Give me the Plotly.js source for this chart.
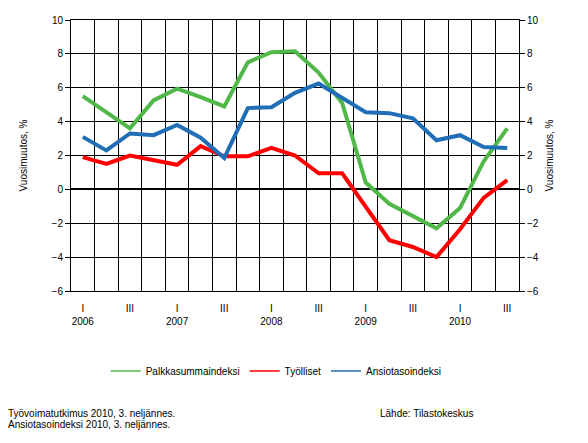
<!DOCTYPE html>
<html>
<head>
<meta charset="utf-8">
<script src="https://cdn.plot.ly/plotly-3.0.1.min.js"></script>
<style>
  body { margin: 0; background: #fff; }
  #chart { width: 588px; height: 443px; }
</style>
</head>
<body>
<div id="chart"></div>
<script>
// quarters 2006 I .. 2010 III
const quarters = [
  "2006 I", "2006 II", "2006 III", "2006 IV",
  "2007 I", "2007 II", "2007 III", "2007 IV",
  "2008 I", "2008 II", "2008 III", "2008 IV",
  "2009 I", "2009 II", "2009 III", "2009 IV",
  "2010 I", "2010 II", "2010 III"
];

const palkkasumma = [5.5, 4.55, 3.6, 5.25, 5.95, 5.45, 4.9, 7.5, 8.1, 8.15,
                     6.9, 5.1, 0.4, -0.85, -1.55, -2.3, -1.1, 1.65, 3.6];
const tyolliset = [1.9, 1.5, 2.0, 1.7, 1.45, 2.55, 1.95, 1.95, 2.45, 2.0,
                   0.95, 0.95, -1.0, -3.0, -3.4, -4.0, -2.35, -0.5, 0.55];
const ansiotaso = [3.1, 2.3, 3.3, 3.2, 3.8, 3.05, 1.85, 4.8, 4.85, 5.7,
                   6.25, 5.4, 4.55, 4.5, 4.2, 2.9, 3.2, 2.5, 2.45];

const seriesNames = ["Palkkasummaindeksi", "Työlliset", "Ansiotasoindeksi"];

const tickQuarters = ["2006 I", "2006 III", "2007 I", "2007 III", "2008 I", "2008 III",
                      "2009 I", "2009 III", "2010 I", "2010 III"];
const tickLabels = ["I<br>2006", "III", "I<br>2007", "III", "I<br>2008", "III",
                    "I<br>2009", "III", "I<br>2010", "III"];

const yTitle = "Vuosimuutos, %";

const green = "rgb(80,184,72)";
const red = "rgb(255,0,0)";
const blue = "rgb(31,110,182)";

const baseFont = {family: "Liberation Sans, Arial, sans-serif", size: 10, color: "#000"};

const makeTrace = (y, color) => {
    return {
        x: quarters,
        y: y,
        type: 'scatter',
        mode: 'lines',
        showlegend: false,
        line: {color: color, width: 4}
    }
}

// legend shows thin lines, so it gets its own empty traces
const legendTrace = (name, color) => {
    return {
        x: [null],
        y: [null],
        name: name,
        type: 'scatter',
        mode: 'lines',
        line: {color: color, width: 1.5}
    }
}

const data = [
    makeTrace(palkkasumma, green),
    makeTrace(tyolliset, red),
    makeTrace(ansiotaso, blue),
    legendTrace(seriesNames[0], green),
    legendTrace(seriesNames[1], red),
    legendTrace(seriesNames[2], blue),
    // invisible copy so the second axes get drawn
    {x: quarters, y: ansiotaso, xaxis: 'x2', yaxis: 'y2', type: 'scatter', mode: 'lines',
     line: {color: 'rgba(0,0,0,0)', width: 0}, showlegend: false, hoverinfo: 'skip'}
];

const yAxisCommon = {
    range: [-6, 10],
    dtick: 2,
    tick0: -6,
    ticks: 'outside',
    ticklen: 5,
    tickcolor: '#000',
    tickfont: baseFont,
    showline: true,
    linecolor: '#000',
    linewidth: 1,
    zeroline: false,
    fixedrange: true
}

const layout = {
    width: 588,
    height: 443,
    margin: {l: 71, r: 69, t: 20, b: 152},
    paper_bgcolor: '#fff',
    plot_bgcolor: '#fff',
    font: baseFont,
    showlegend: true,
    legend: {
        orientation: 'h',
        x: 0.458,
        xanchor: 'center',
        y: -0.295,
        yanchor: 'middle',
        font: baseFont,
        itemwidth: 30,
        traceorder: 'normal'
    },
    xaxis: {
        type: 'category',
        range: [-0.5, 18.5],
        tickson: 'boundaries',
        showgrid: true,
        gridcolor: '#000',
        gridwidth: 1,
        showticklabels: false,
        ticks: '',
        showline: true,
        linecolor: '#000',
        mirror: true,
        fixedrange: true
    },
    xaxis2: {
        type: 'category',
        overlaying: 'x',
        side: 'bottom',
        anchor: 'y',
        range: [-0.5, 18.5],
        tickvals: tickQuarters,
        ticktext: tickLabels,
        ticklabelstandoff: 10,
        showgrid: false,
        ticks: '',
        tickfont: baseFont,
        fixedrange: true
    },
    yaxis: Object.assign({}, yAxisCommon, {
        side: 'left',
        showgrid: true,
        gridcolor: '#000',
        gridwidth: 1,
        zeroline: true,
        zerolinecolor: '#000',
        zerolinewidth: 2,
        title: {text: yTitle, font: baseFont, standoff: 22}
    }),
    yaxis2: Object.assign({}, yAxisCommon, {
        side: 'right',
        overlaying: 'y',
        showgrid: false,
        title: {text: yTitle, font: baseFont, standoff: 8}
    }),
    annotations: [
        {
            xref: 'paper', yref: 'paper', x: -0.145, y: -0.425,
            xanchor: 'left', yanchor: 'top', align: 'left', showarrow: false,
            text: "Työvoimatutkimus 2010, 3. neljännes.",
            font: baseFont
        },
        {
            xref: 'paper', yref: 'paper', x: -0.145, y: -0.466,
            xanchor: 'left', yanchor: 'top', align: 'left', showarrow: false,
            text: "Ansiotasoindeksi 2010, 3. neljännes.",
            font: baseFont
        },
        {
            xref: 'paper', yref: 'paper', x: 0.685, y: -0.425,
            xanchor: 'left', yanchor: 'top', align: 'left', showarrow: false,
            text: "Lähde: Tilastokeskus",
            font: baseFont
        }
    ]
}

const config = {staticPlot: true}

Plotly.newPlot('chart', data, layout, config);
</script>
</body>
</html>
